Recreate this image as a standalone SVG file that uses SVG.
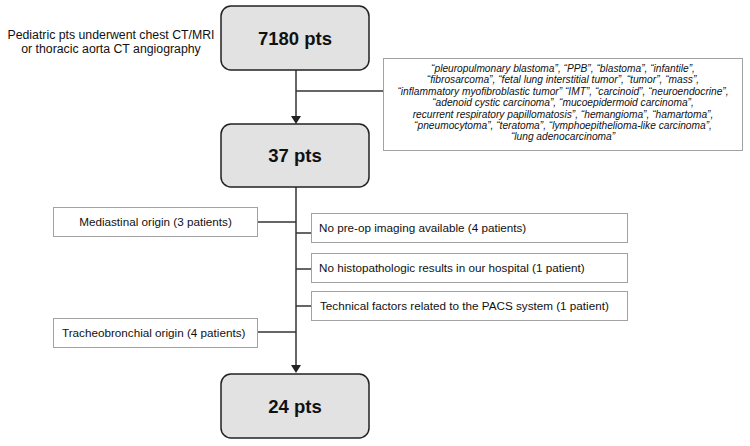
<svg xmlns="http://www.w3.org/2000/svg" width="750" height="446" viewBox="0 0 750 446">
<style>
.main{fill:#e2e2e2;stroke:#222;stroke-width:1.5}
.big{font-family:"Liberation Sans",Arial,sans-serif;font-weight:bold;font-size:18.5px;fill:#111;text-anchor:middle}
.dot{fill:#fff;stroke:#444;stroke-width:1;stroke-dasharray:1,1}
.lbl{font-family:"Liberation Sans",Arial,sans-serif;font-size:11.7px;fill:#111}
.it{font-family:"Liberation Sans",Arial,sans-serif;font-size:10.2px;font-style:italic;fill:#111;text-anchor:middle}
.ln{stroke:#333;stroke-width:1.5;fill:none}
</style>
<rect width="750" height="446" fill="#fff"/>
<g id="connectors">
<line class="ln" x1="296" y1="70" x2="296" y2="117"/>
<path d="M291,116 L301,116 L296,124 z" fill="#222"/>
<line class="ln" x1="296" y1="91" x2="383" y2="91"/>
<line class="ln" x1="296" y1="187" x2="296" y2="366"/>
<path d="M291,365 L301,365 L296,373 z" fill="#222"/>
<line class="ln" x1="258" y1="222" x2="296" y2="222"/>
<line class="ln" x1="296" y1="233" x2="311" y2="233"/>
<line class="ln" x1="296" y1="269" x2="311" y2="269"/>
<line class="ln" x1="296" y1="306" x2="311" y2="306"/>
<line class="ln" x1="258" y1="332" x2="296" y2="332"/>
</g>
<g id="intro">
<text class="lbl" x="111" y="39" text-anchor="middle" style="font-size:12.3px">Pediatric pts underwent chest CT/MRI</text>
<text class="lbl" x="111" y="53" text-anchor="middle" style="font-size:12.3px">or thoracic aorta CT angiography</text>
</g>
<g id="n7180">
<rect class="main" x="221" y="6" width="148" height="64" rx="10"/>
<text class="big" x="295" y="45">7180 pts</text>
</g>
<g id="keywords">
<rect class="dot" x="383.5" y="58.5" width="359" height="92"/>
<text class="it" x="563" y="72">“pleuropulmonary blastoma”, “PPB”, “blastoma”, “infantile”,</text>
<text class="it" x="563" y="83.4">“fibrosarcoma”, “fetal lung interstitial tumor”, “tumor”, “mass”,</text>
<text class="it" x="563" y="94.8">“inflammatory myofibroblastic tumor” “IMT”, “carcinoid”, “neuroendocrine”,</text>
<text class="it" x="563" y="106.2">“adenoid cystic carcinoma”, “mucoepidermoid carcinoma”,</text>
<text class="it" x="563" y="117.6">recurrent respiratory papillomatosis”, “hemangioma”, “hamartoma”,</text>
<text class="it" x="563" y="129">“pneumocytoma”, “teratoma”, “lymphoepithelioma-like carcinoma”,</text>
<text class="it" x="563" y="140.4">“lung adenocarcinoma”</text>
</g>
<g id="n37">
<rect class="main" x="221" y="124" width="148" height="63" rx="10"/>
<text class="big" x="295" y="162">37 pts</text>
</g>
<g id="mediastinal">
<rect class="dot" x="53.5" y="207.5" width="204" height="29"/>
<text class="lbl" x="155.5" y="226" text-anchor="middle">Mediastinal origin (3 patients)</text>
</g>
<g id="preop">
<rect class="dot" x="311.5" y="213.5" width="316" height="29"/>
<text class="lbl" x="319" y="232">No pre-op imaging available (4 patients)</text>
</g>
<g id="histo">
<rect class="dot" x="311.5" y="253.5" width="316" height="29"/>
<text class="lbl" x="319" y="272">No histopathologic results in our hospital (1 patient)</text>
</g>
<g id="pacs">
<rect class="dot" x="311.5" y="291.5" width="316" height="29"/>
<text class="lbl" x="320" y="310">Technical factors related to the PACS system (1 patient)</text>
</g>
<g id="tracheo">
<rect class="dot" x="53.5" y="318.5" width="204" height="29"/>
<text class="lbl" x="62" y="337">Tracheobronchial origin (4 patients)</text>
</g>
<g id="n24">
<rect class="main" x="221" y="374" width="148" height="64" rx="10"/>
<text class="big" x="295" y="413">24 pts</text>
</g>
</svg>
